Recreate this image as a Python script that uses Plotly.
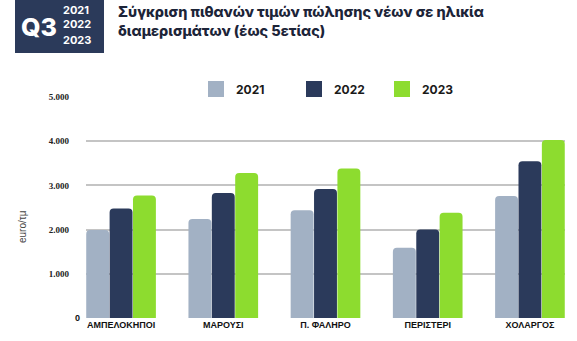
import plotly.graph_objects as go

areas = ["ΑΜΠΕΛΟΚΗΠΟΙ", "ΜΑΡΟΥΣΙ", "Π. ΦΑΛΗΡΟ", "ΠΕΡΙΣΤΕΡΙ", "ΧΟΛΑΡΓΟΣ"]
years = ["2021", "2022", "2023"]
v2021 = [1990, 2240, 2440, 1590, 2760]
v2022 = [2480, 2830, 2920, 2000, 3545]
v2023 = [2770, 3280, 3380, 2380, 4025]
colors = ["#a2b1c4", "#2b3a5b", "#8ddc2f"]
tickvals = [0, 1000, 2000, 3000, 4000, 5000]
ticktext = ["", "1.000", "2.000", "3.000", "4.000", "5.000"]
zero_label = "0"

W, H = 577, 341
L, R, T, B = 86, 12, 97, 23

fig = go.Figure()
series = [v2021, v2022, v2023]
legend_ids = ["legend", "legend2", "legend3"]
for i, (yr, vals) in enumerate(zip(years, series)):
    fig.add_trace(go.Bar(x=areas, y=vals, name=yr, marker=dict(color=colors[i], line=dict(width=0)),
                         showlegend=False))
    fig.add_trace(go.Scatter(x=[None], y=[None], mode="markers", name=yr,
                             marker=dict(symbol="square", size=16, color=colors[i]),
                             legend=legend_ids[i]))

pw = W - L - R
ph = H - T - B
def px(x):
    return (x - L) / pw
def py(y):
    return (H - B - y) / ph

legend_common = dict(orientation="h", xref="container", yref="container", yanchor="middle",
                      xanchor="left", bgcolor="rgba(0,0,0,0)",
                      font=dict(family="Inter", size=12, color="#1a1a1a", weight="bold"))
leg_x = [196, 294, 382]
layout_legends = {}
for lid, lx in zip(legend_ids, leg_x):
    d = dict(legend_common)
    d.update(x=lx / W, y=1 - 89 / H)
    layout_legends[lid] = d

fig.update_layout(
    width=W, height=H,
    margin=dict(l=L, r=R, t=T, b=B, autoexpand=False),
    paper_bgcolor="white", plot_bgcolor="white",
    barmode="group", bargap=0.314, bargroupgap=0.02, barcornerradius=4,
    xaxis=dict(range=[-0.343, 4.343], showgrid=False, zeroline=False, showline=False,
               tickfont=dict(family="Liberation Sans", size=9, color="#111", weight="bold"),
               ticks="", automargin=False),
    yaxis=dict(range=[0, 5000], tickvals=tickvals, ticktext=ticktext,
               showgrid=True, gridcolor="#c4c4c4", gridwidth=1.5, zeroline=False, showline=False,
               ticklabelstandoff=16, automargin=False,
               tickfont=dict(family="Liberation Serif", size=9, color="#222", weight="bold")),
    **layout_legends,
)

# zero tick label (sits closer to the axis in the reference)
fig.add_annotation(xref="paper", yref="y", x=px(77), y=tickvals[0], xanchor="center", yanchor="middle",
                   text="<b>" + zero_label + "</b>", showarrow=False,
                   font=dict(family="Liberation Sans", size=9, color="#111"))

# title block
fig.add_shape(type="rect", xref="paper", yref="paper", x0=px(15), x1=px(104), y0=py(53), y1=py(-2),
              fillcolor="#2b3a5a", line=dict(width=0), layer="above")
fig.add_annotation(xref="paper", yref="paper", x=px(19), y=py(27), xanchor="left", yanchor="middle",
                   text="Q3", showarrow=False,
                   font=dict(family="Inter", size=25, color="white", weight=800))
for yr, yy in zip(years, [9.5, 24, 40]):
    fig.add_annotation(xref="paper", yref="paper", x=px(61), y=py(yy), xanchor="left", yanchor="middle",
                       text=yr, showarrow=False,
                       font=dict(family="Inter", size=11, color="white", weight=700))
fig.add_annotation(xref="paper", yref="paper", x=px(116), y=py(21), xanchor="left", yanchor="middle",
                   align="left",
                   text="Σύγκριση πιθανών τιμών πώλησης νέων σε ηλικία<br>διαμερισμάτων (έως 5ετίας)",
                   showarrow=False, font=dict(family="Inter", size=14.4, color="#1c2438", weight=800))
fig.add_annotation(xref="paper", yref="paper", x=px(22), y=py(227), xanchor="center", yanchor="middle",
                   text="euro/τμ", textangle=-90, showarrow=False,
                   font=dict(family="Liberation Sans", size=10, color="#444"))

fig.write_html("out.html")
